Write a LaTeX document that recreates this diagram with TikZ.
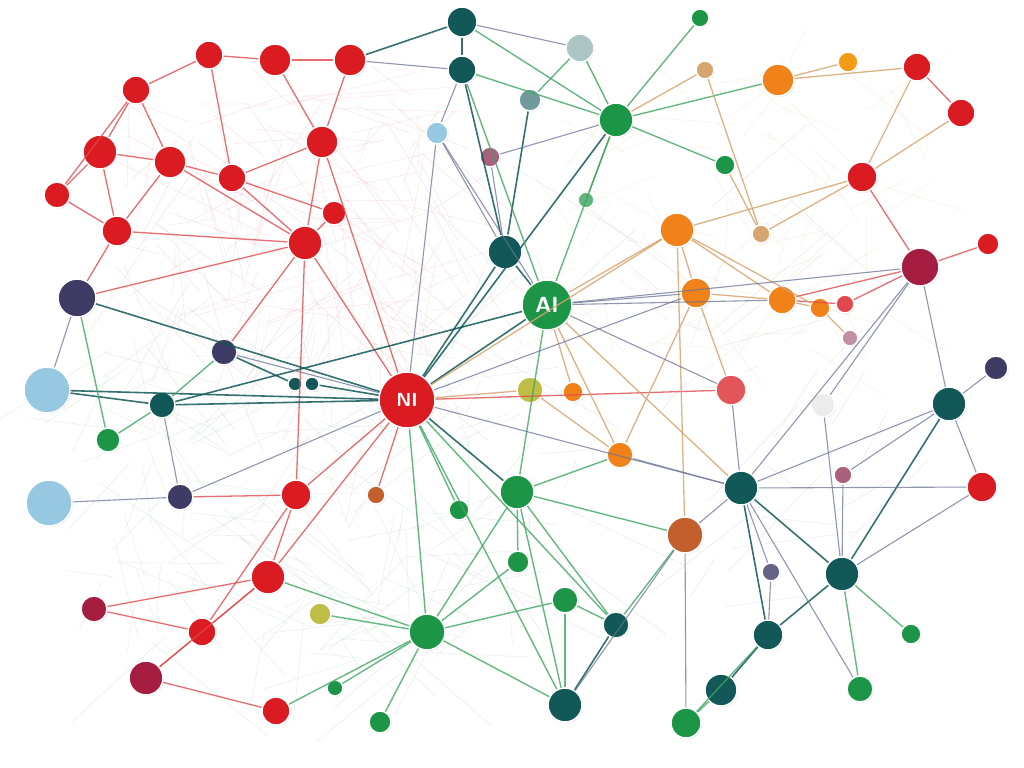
\documentclass[tikz,border=0pt]{standalone}
\usetikzlibrary{shadows}

\definecolor{nred}{RGB}{218,28,34}
\definecolor{crim}{RGB}{165,30,65}
\definecolor{tealn}{RGB}{18,88,88}
\definecolor{grn}{RGB}{28,150,70}
\definecolor{orng}{RGB}{240,130,25}
\definecolor{navy}{RGB}{62,60,100}
\definecolor{lblue}{RGB}{150,200,225}
\definecolor{mauve}{RGB}{170,95,125}
\definecolor{olive}{RGB}{190,190,70}
\definecolor{sien}{RGB}{195,95,45}
\definecolor{slate}{RGB}{105,115,150}
\definecolor{tan}{RGB}{215,165,110}

\tikzset{
  hub/.style={circle, fill=#1, draw=white, line width=1.5pt, inner sep=0pt,
    drop shadow={opacity=.2, shadow xshift=1pt, shadow yshift=-1pt}},
  re/.style={nred!80, line width=1.3pt, opacity=.8},
  te/.style={tealn, line width=1.6pt, opacity=.85},
  ge/.style={grn!85, line width=1.4pt, opacity=.8},
  oe/.style={tan, line width=1.3pt, opacity=.85},
  se/.style={slate, line width=1.1pt, opacity=.75},
  hair/.style={line width=.3pt, opacity=.35}
}

\begin{document}
\begin{tikzpicture}[x=1bp,y=-1bp]
\useasboundingbox[fill=white] (0,0) rectangle (1024,768);

% faint background strands
\pgfmathsetseed{17}
\foreach \i in {1,...,140} {
  \pgfmathsetmacro\xa{110+rnd*330}
  \pgfmathsetmacro\ya{90+rnd*250}
  \pgfmathsetmacro\xb{\xa+(rnd-.3)*220}
  \pgfmathsetmacro\yb{\ya+(rnd-.3)*180}
  \draw[hair, nred!45] (\xa,\ya) -- (\xb,\yb);
}
\foreach \i in {1,...,140} {
  \pgfmathsetmacro\xa{100+rnd*380}
  \pgfmathsetmacro\ya{330+rnd*330}
  \pgfmathsetmacro\xb{\xa+(rnd-.5)*240}
  \pgfmathsetmacro\yb{\ya+(rnd-.5)*200}
  \draw[hair, grn!50] (\xa,\ya) -- (\xb,\yb);
}
\foreach \i in {1,...,80} {
  \pgfmathsetmacro\xa{560+rnd*330}
  \pgfmathsetmacro\ya{60+rnd*300}
  \pgfmathsetmacro\xb{\xa+(rnd-.5)*200}
  \pgfmathsetmacro\yb{\ya+(rnd-.5)*160}
  \draw[hair, orng!50] (\xa,\ya) -- (\xb,\yb);
}
\foreach \i in {1,...,70} {
  \pgfmathsetmacro\xa{200+rnd*700}
  \pgfmathsetmacro\ya{200+rnd*450}
  \pgfmathsetmacro\xb{\xa+(rnd-.5)*250}
  \pgfmathsetmacro\yb{\ya+(rnd-.5)*200}
  \draw[hair, slate!60] (\xa,\ya) -- (\xb,\yb);
}

% nodes
\foreach \n/\x/\y/\r/\c in {
  r1/209/55/14/nred, r2/275/60/16/nred, r3/350/60/16/nred, r4/136/90/14/nred,
  r5/100/152/17/nred, r6/170/162/16/nred, r7/232/178/14/nred, r8/322/142/16/nred,
  r9/57/195/13/nred, r10/117/231/15/nred, r11/334/213/12/nred, r12/305/243/17/nred,
  r13/296/495/15/nred, r14/376/495/9/sien, r15/268/577/17/nred, r16/202/632/14/nred,
  r17/94/609/13/crim, r18/146/678/17/crim, r19/276/711/14/nred,
  t1/462/22/15/tealn, t2/462/70/14/tealn, t3/505/252/17/tealn, t4/162/405/13/tealn,
  t5/949/404/17/tealn, t6/741/488/17/tealn, t7/842/574/17/tealn, t8/768/635/15/tealn,
  t9/721/690/16/tealn, t10/565/705/17/tealn, t11/616/625/13/tealn, t12/686/723/15/grn,
  n1/77/298/19/navy, n2/224/352/13/navy, n3/180/497/13/navy, n4/996/368/12/navy,
  g1/616/120/17/grn, g2/725/165/10/grn, g3/517/492/17/grn, g4/427/632/18/grn,
  g5/565/600/13/grn, g6/518/562/11/grn, g7/108/440/12/grn, g8/860/689/13/grn,
  g9/911/634/10/grn, g10/380/722/11/grn, g11/459/510/10/grn, g12/335/688/8/grn,
  g13/700/18/9/grn, g14/530/100/11/tealn!60, g15/586/200/8/grn!70,
  o1/778/80/16/orng, o2/677/230/17/orng, o3/696/293/15/orng, o4/782/300/14/orng,
  o5/620/455/13/orng, o6/573/392/10/orng, o7/848/62/10/orng!80!yellow,
  o8/820/308/10/orng, o9/705/70/9/tan, o10/761/234/9/tan,
  q1/917/67/14/nred, q2/961/113/14/nred, q3/862/177/15/nred, q4/920/267/19/crim,
  q5/988/244/11/nred, q6/982/487/15/nred, q7/731/390/15/nred!75, q8/685/535/18/sien,
  q9/845/304/9/nred!80, q10/850/338/8/mauve!70,
  b1/47/390/23/lblue, b2/49/503/23/lblue, b3/437/133/11/lblue, b4/580/48/14/tealn!35,
  b5/823/405/12/gray!15,
  p1/490/157/10/mauve, p2/843/475/9/mauve, p3/771/572/9/navy!80,
  y1/530/390/13/olive, y2/320/614/11/olive,
  s1/295/384/7/tealn, s2/312/384/7/tealn}
  \node[hub=\c, minimum size={\r*2bp}] (\n) at (\x,\y) {};

\node[hub=grn, minimum size=50bp, text=white, font=\sffamily\bfseries\fontsize{22}{22}\selectfont] (ai) at (547,305) {AI};
\node[hub=nred, minimum size=56bp, text=white, font=\sffamily\bfseries\fontsize{19}{19}\selectfont] (ni) at (407,400) {NI};

% connectors
\foreach \a/\b in {r1/r4, r1/r2, r2/r3, r3/r8, r2/r8, r4/r5, r4/r6, r5/r6, r5/r10,
  r6/r7, r7/r8, r8/r12, r7/r12, r10/r12, r9/r10, r6/r10, r10/n1, r12/ni, r8/ni,
  r11/r12, r7/r11, r12/r13, r12/n1, r12/n2, r1/r7, r5/r9, ni/r13, ni/r15, ni/r14,
  r13/r16, r13/r15, r15/r17, r15/r16, r16/r18, r18/r19, r15/r18, r17/r16, n3/r13,
  q3/q4, q4/q5, q1/q2, q4/o4, q4/q9, o4/q9, r4/r9, r6/r12, ni/q7}
  \draw[re] (\a) -- (\b);
\foreach \a/\b in {ni/t3, ni/ai, ni/t4, t3/t2, t3/ai, t2/t1, ni/g1, ni/g3, t4/b1,
  ni/n1, t7/t8, t8/t9, t6/t7, t6/t8, t10/t11, t5/t7, r3/t1, t3/g14, ai/t4,
  ni/s2, n2/s1, ni/b1}
  \draw[te] (\a) -- (\b);
\foreach \a/\b in {ai/g1, g1/t1, g1/b4, g1/o1, g1/g2, g1/g13, g1/t2, ni/g4, ni/t10,
  ni/t11, ni/g11, ai/g3, g4/g3, g4/g6, g4/g5, g4/g10, g4/t10, g4/y2, g4/r15, g4/r19,
  g3/g6, g3/q8, g3/t11, t11/g5, t7/g9, t7/g8, t9/t12, t8/t12, g3/t10, t4/g7,
  n1/g7, b4/g14, g1/g15, g4/g12, t11/q8, g5/t10, ai/t2, g3/o5, t4/n2}
  \draw[ge] (\a) -- (\b);
\foreach \a/\b in {ai/o2, o1/q1, o1/o7, o2/o3, o2/q3, o2/o4, o3/o4, o3/q7, o4/o8,
  o3/o5, o5/y1, q3/q1, q3/q2, ai/o5, ai/t6, ni/o2, g1/o9, o9/o10, o10/q3, g2/o10,
  o6/ai, y1/ni, o2/q8, o8/q10, o2/o8}
  \draw[oe] (\a) -- (\b);
\foreach \a/\b in {ai/o3, ai/o4, ai/q4, ai/b3, ni/b3, ni/t6, o5/t6, q4/t5, q4/t6,
  q4/b5, t5/q6, t5/p2, t5/t6, q6/t7, t6/q8, t6/p3, p3/t8, q8/t10, q8/t12, t5/n4,
  b1/n1, b2/n3, n3/ni, n3/t4, n2/ni, b3/t3, p1/g1, t2/b3, r3/t2, t1/b4, q7/t6,
  b5/t7, p2/t7, ai/q7, t6/g8, t3/p1, ni/o3, q6/t6}
  \draw[se] (\a) -- (\b);
\end{tikzpicture}
\end{document}
